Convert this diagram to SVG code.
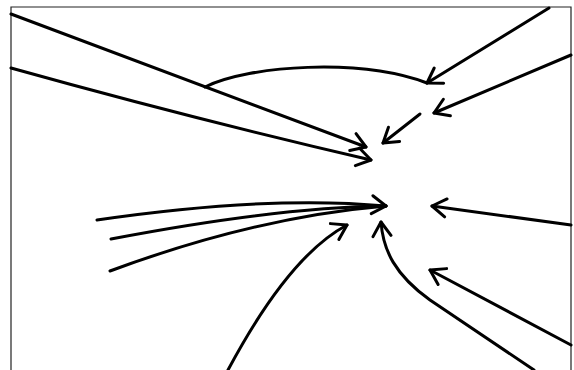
<svg xmlns="http://www.w3.org/2000/svg" width="574" height="370" viewBox="0 0 574 370">
<style>
.c{fill:none;stroke:#000;stroke-width:3;stroke-linecap:round;stroke-linejoin:round}
.frame{fill:none;stroke:#222;stroke-width:1.2}
</style>
<defs>
<marker id="ah" viewBox="-18 -11 21 22" refX="0" refY="0" markerWidth="21" markerHeight="22" markerUnits="userSpaceOnUse" orient="auto">
<path d="M-14,-9 L0,0 L-14,9" fill="none" stroke="#000" stroke-width="3" stroke-linecap="round" stroke-linejoin="round"/>
</marker>
</defs>
<rect width="574" height="370" fill="#fff"/>
<g id="frame">
<path class="frame" d="M11,372 L11,7 L571,7 L571,372"/>
</g>
<g id="connectors">
<path class="c" d="M11,14 L366,147" marker-end="url(#ah)"/>
<path class="c" d="M11,68 Q190,118 371,160" marker-end="url(#ah)"/>
<path class="c" d="M205,87 C250,65 360,58 427,83"/>
<path class="c" d="M549,8 L427,83" marker-end="url(#ah)"/>
<path class="c" d="M571,55 L434,113" marker-end="url(#ah)"/>
<path class="c" d="M420,114 L383,143" marker-end="url(#ah)"/>
<path class="c" d="M97,220 C200,205 300,198 386,206" marker-end="url(#ah)"/>
<path class="c" d="M111,239 C200,222 300,207 386,206"/>
<path class="c" d="M110,271 C180,245 280,215 386,206"/>
<path class="c" d="M228,370 C260,310 300,250 347,225" marker-end="url(#ah)"/>
<path class="c" d="M534,370 L430,300 C395,275 383,250 381,222" marker-end="url(#ah)"/>
<path class="c" d="M571,225 L432,206" marker-end="url(#ah)"/>
<path class="c" d="M571,345 L430,270" marker-end="url(#ah)"/>
</g>
</svg>
